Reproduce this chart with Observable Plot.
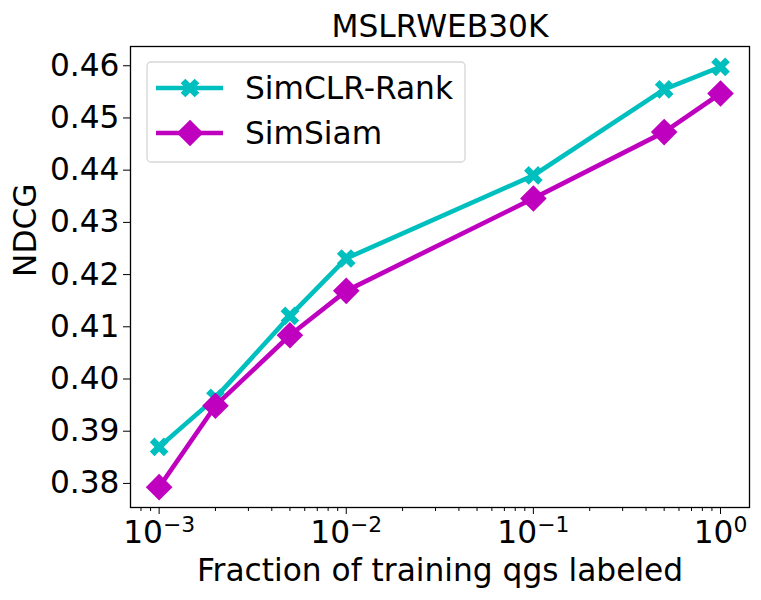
<!DOCTYPE html>
<html>
<head>
<meta charset="utf-8">
<script src="https://cdn.jsdelivr.net/npm/d3@7"></script>
<script src="https://cdn.jsdelivr.net/npm/@observablehq/plot@0.6"></script>
<style>
  html, body { margin: 0; padding: 0; background: white; }
  #chart { width: 761px; height: 600px; }
</style>
</head>
<body>
<div id="chart"></div>
<script>
// ---- data ----
const fractions = [0.001, 0.002, 0.005, 0.01, 0.1, 0.5, 1];
const simclrRank = [0.3867, 0.3961, 0.4118, 0.4228, 0.4387, 0.4552, 0.4595];
const simSiam = [0.3790, 0.3946, 0.4081, 0.4166, 0.4343, 0.4470, 0.4544];
const seriesNames = ["SimCLR-Rank", "SimSiam"];
const yTicks = [0.38, 0.39, 0.40, 0.41, 0.42, 0.43, 0.44, 0.45, 0.46];
const xMajorTicks = [0.001, 0.01, 0.1, 1];
const xMinorTicks = [0.0008, 0.0009,
  0.002, 0.003, 0.004, 0.005, 0.006, 0.007, 0.008, 0.009,
  0.02, 0.03, 0.04, 0.05, 0.06, 0.07, 0.08, 0.09,
  0.2, 0.3, 0.4, 0.5, 0.6, 0.7, 0.8, 0.9];
const titleText = "MSLRWEB30K";
const xLabel = "Fraction of training qgs labeled";
const yLabel = "NDCG";

// ---- styles ----
const CYAN = "#00bfbf";
const MAGENTA = "#bf00bf";
const FONT = "'DejaVu Sans', 'Liberation Sans', sans-serif";
const FS = 31.25;

// filled "X" marker (plus rotated 45deg), fixed pixel size
const xSymbol = {
  draw(ctx) {
    const a = 3.3;
    const pts = [[-1,-3],[-1,-1],[-3,-1],[-3,1],[-1,1],[-1,3],[1,3],[1,1],[3,1],[3,-1],[1,-1],[1,-3]];
    const c = Math.SQRT1_2;
    pts.forEach(([x, y], i) => {
      const px = (x - y) * c * a, py = (x + y) * c * a;
      if (i === 0) ctx.moveTo(px, py); else ctx.lineTo(px, py);
    });
    ctx.closePath();
  }
};
// filled diamond (square rotated 45deg)
const dSymbol = {
  draw(ctx) {
    const r = 13.3;
    ctx.moveTo(0, -r); ctx.lineTo(r, 0); ctx.lineTo(0, r); ctx.lineTo(-r, 0); ctx.closePath();
  }
};

const rows = [];
fractions.forEach((f, i) => {
  rows.push({series: seriesNames[0], x: f, y: simclrRank[i]});
  rows.push({series: seriesNames[1], x: f, y: simSiam[i]});
});
const rowsA = rows.filter(d => d.series === seriesNames[0]);
const rowsB = rows.filter(d => d.series === seriesNames[1]);

const chart = Plot.plot({
  width: 761,
  height: 600,
  marginLeft: 130,
  marginRight: 12,
  marginTop: 46,
  marginBottom: 93,
  style: {fontFamily: FONT, fontSize: FS + "px", background: "white", color: "black", overflow: "visible"},
  x: {type: "log", domain: [Math.pow(10, -3.153), Math.pow(10, 0.155)]},
  y: {domain: [0.3751, 0.4634]},
  marks: [
    Plot.axisY({ticks: yTicks, tickFormat: d3.format(".2f"), tickSize: 7, tickPadding: 4, dy: 1.5, label: null, fontSize: FS, stroke: "black"}),
    Plot.axisX({ticks: xMinorTicks, tickSize: 4, tickFormat: () => "", label: null, stroke: "black"}),
    Plot.axisX({ticks: xMajorTicks, tickSize: 7, tickPadding: 6, label: null, fontSize: FS, stroke: "black",
      tickFormat: d => `10^${Math.round(Math.log10(d))}`}),
    Plot.line(rowsA, {x: "x", y: "y", stroke: CYAN, strokeWidth: 4.6}),
    Plot.line(rowsB, {x: "x", y: "y", stroke: MAGENTA, strokeWidth: 4.6}),
    Plot.dot(rowsA, {x: "x", y: "y", symbol: xSymbol, fill: CYAN, stroke: "none", r: 1}),
    Plot.dot(rowsB, {x: "x", y: "y", symbol: dSymbol, fill: MAGENTA, stroke: "none", r: 1}),
    Plot.frame({stroke: "black", strokeWidth: 1.3}),
    Plot.text([titleText], {frameAnchor: "top", lineAnchor: "bottom", dy: -10, fontSize: FS, fill: "black"}),
    Plot.text([xLabel], {frameAnchor: "bottom", lineAnchor: "bottom", dy: 73, fontSize: FS, fill: "black"}),
    Plot.text([yLabel], {frameAnchor: "left", lineAnchor: "bottom", rotate: -90, dx: -95, fontSize: FS, fill: "black"})
  ]
});

document.getElementById("chart").appendChild(chart);

// superscript exponents on the log-axis tick labels
chart.querySelectorAll("text").forEach(t => {
  const s = t.textContent;
  const m = /^10\^(-?\d+)$/.exec(s);
  if (!m) return;
  t.textContent = "";
  const base = document.createElementNS("http://www.w3.org/2000/svg", "tspan");
  base.textContent = "10";
  const sup = document.createElementNS("http://www.w3.org/2000/svg", "tspan");
  sup.textContent = m[1].replace("-", "\u2212");
  sup.setAttribute("font-size", (FS * 0.7) + "px");
  sup.setAttribute("dy", "-10.5");
  t.appendChild(base);
  t.appendChild(sup);
});

// legend inside the plot (upper left)
const svg = d3.select(chart);
const lg = svg.append("g").attr("class", "legend");
lg.append("rect")
  .attr("x", 147).attr("y", 62).attr("width", 318).attr("height", 100)
  .attr("rx", 4).attr("ry", 4)
  .attr("fill", "white").attr("fill-opacity", 0.8)
  .attr("stroke", "#d6d6d6").attr("stroke-width", 1.3);
const legendItems = [
  {name: seriesNames[0], color: CYAN, symbol: xSymbol, y: 88},
  {name: seriesNames[1], color: MAGENTA, symbol: dSymbol, y: 133}
];
legendItems.forEach(item => {
  lg.append("line").attr("x1", 156).attr("x2", 223).attr("y1", item.y).attr("y2", item.y)
    .attr("stroke", item.color).attr("stroke-width", 4.6);
  const p = d3.path();
  item.symbol.draw(p);
  lg.append("path").attr("d", p.toString()).attr("transform", `translate(190,${item.y})`).attr("fill", item.color);
  lg.append("text").attr("x", 245).attr("y", item.y + 11)
    .attr("text-anchor", "start")
    .attr("font-family", FONT).attr("font-size", FS).attr("fill", "black").text(item.name);
});
</script>
</body>
</html>
